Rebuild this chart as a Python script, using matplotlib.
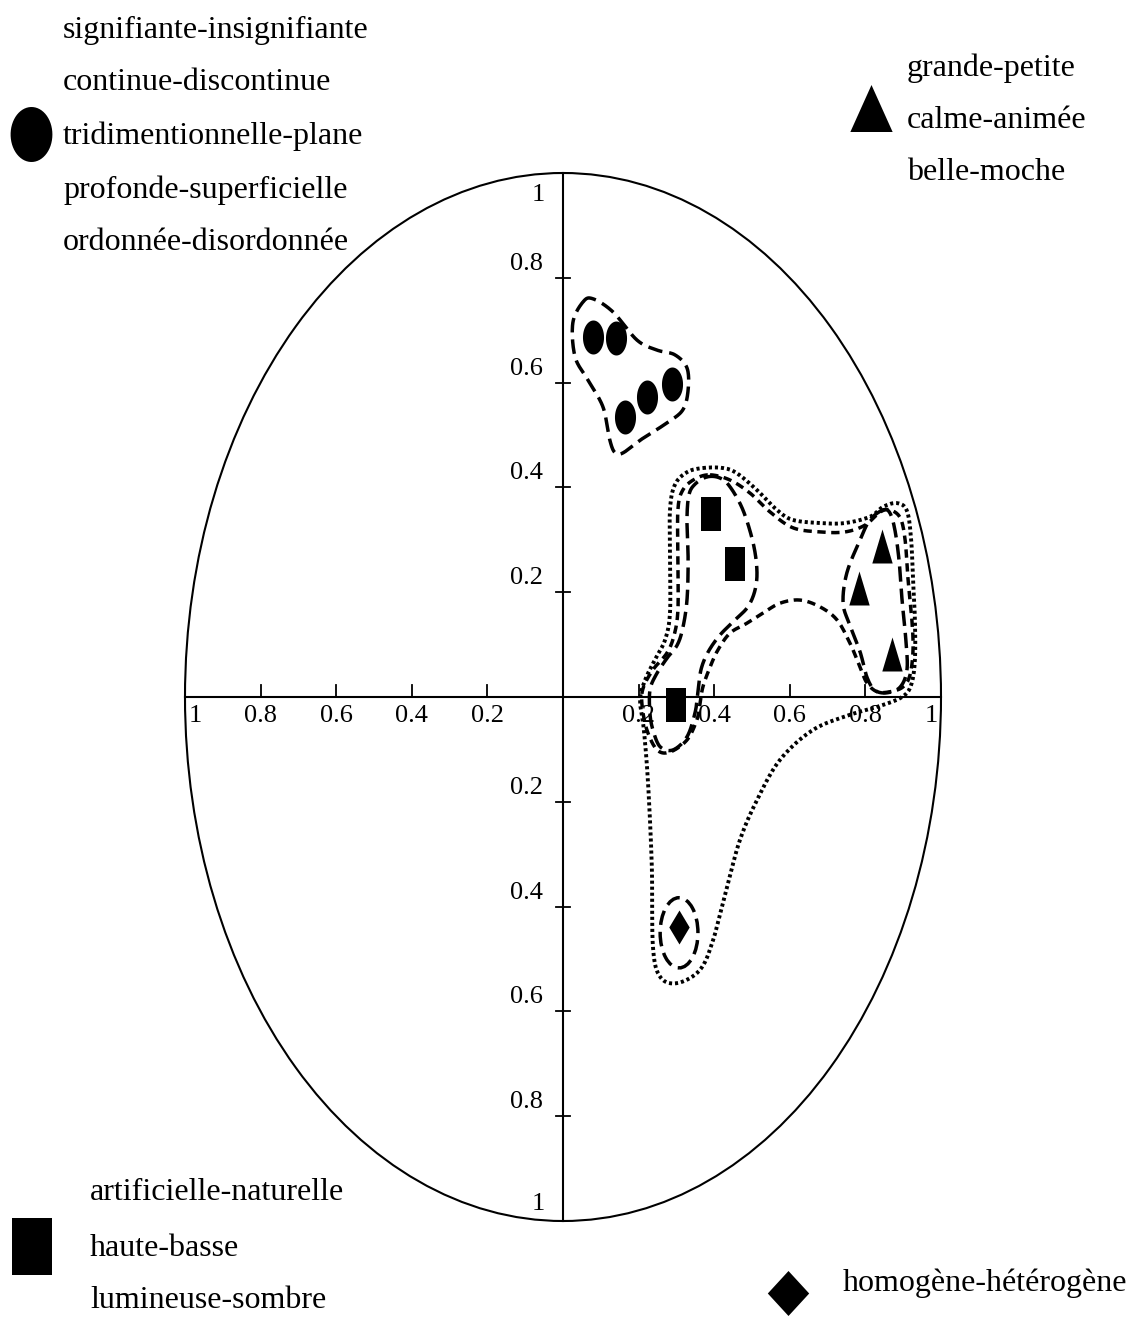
import numpy as np
import matplotlib
matplotlib.use("Agg")
import matplotlib.pyplot as plt
from matplotlib.patches import Ellipse

plt.rcParams['font.family'] = ['Liberation Serif', 'DejaVu Serif']

# Figure size in pixels and the pixel frame of the unit ellipse
W, H = 1140, 1317
CX, CY = 563, 697        # origin in pixels
UX, UY = 378, 524        # pixels per unit on each axis

# Adjective pairs (factorial coordinates on axes 1 and 2)
circle_x = [0.079, 0.140, 0.164, 0.222, 0.288]
circle_y = [0.687, 0.685, 0.534, 0.573, 0.597]
square_x = [0.392, 0.455, 0.299]
square_y = [0.349, 0.254, -0.015]
triangle_x = [0.844, 0.783, 0.870]
triangle_y = [0.288, 0.208, 0.082]
diamond_x = [0.307]
diamond_y = [-0.439]

circle_labels = ["signifiante-insignifiante", "continue-discontinue",
                 "tridimentionnelle-plane", "profonde-superficielle",
                 "ordonnée-disordonnée"]
triangle_labels = ["grande-petite", "calme-animée", "belle-moche"]
square_labels = ["artificielle-naturelle", "haute-basse", "lumineuse-sombre"]
diamond_labels = ["homogène-hétérogène"]

tick_values = [0.2, 0.4, 0.6, 0.8]

# Group outlines (control points, smoothed below)
hull_circles = [(0.053, 0.754), (0.079, 0.760), (0.132, 0.735), (0.196, 0.681),
                (0.249, 0.662), (0.296, 0.653), (0.328, 0.628), (0.331, 0.586),
                (0.317, 0.548), (0.275, 0.523), (0.212, 0.494), (0.159, 0.466),
                (0.138, 0.466), (0.124, 0.490), (0.106, 0.553), (0.066, 0.605),
                (0.032, 0.649), (0.026, 0.714)]
hull_squares = [(0.381, 0.420), (0.415, 0.418), (0.442, 0.401), (0.476, 0.357),
                (0.503, 0.294), (0.513, 0.242), (0.508, 0.204), (0.489, 0.172),
                (0.455, 0.147), (0.415, 0.118), (0.384, 0.086), (0.365, 0.052),
                (0.357, 0.008), (0.349, -0.031), (0.328, -0.076), (0.291, -0.101),
                (0.257, -0.095), (0.238, -0.063), (0.230, -0.031), (0.230, 0.013),
                (0.246, 0.042), (0.275, 0.074), (0.302, 0.099), (0.317, 0.132),
                (0.328, 0.185), (0.331, 0.261), (0.328, 0.338), (0.333, 0.385),
                (0.349, 0.406)]
hull_sq_tri = [(0.389, 0.424), (0.442, 0.414), (0.495, 0.389), (0.548, 0.353),
               (0.608, 0.323), (0.680, 0.315), (0.746, 0.315), (0.799, 0.328),
               (0.839, 0.353), (0.865, 0.357), (0.892, 0.342), (0.905, 0.300),
               (0.913, 0.223), (0.923, 0.147), (0.926, 0.090), (0.918, 0.042),
               (0.899, 0.019), (0.865, 0.010), (0.831, 0.010), (0.804, 0.027),
               (0.786, 0.057), (0.759, 0.103), (0.725, 0.147), (0.680, 0.172),
               (0.627, 0.185), (0.574, 0.179), (0.529, 0.160), (0.487, 0.141),
               (0.442, 0.122), (0.410, 0.090), (0.389, 0.057), (0.370, 0.019),
               (0.362, -0.015), (0.354, -0.044), (0.328, -0.082), (0.283, -0.105),
               (0.249, -0.101), (0.222, -0.063), (0.209, -0.015), (0.212, 0.017),
               (0.238, 0.052), (0.275, 0.084), (0.294, 0.118), (0.304, 0.166),
               (0.304, 0.261), (0.304, 0.357), (0.317, 0.395), (0.349, 0.416)]
hull_triangles = [(0.847, 0.357), (0.812, 0.338), (0.786, 0.300), (0.751, 0.237),
                  (0.741, 0.179), (0.759, 0.137), (0.786, 0.086), (0.804, 0.038),
                  (0.825, 0.013), (0.857, 0.008), (0.892, 0.019), (0.910, 0.052),
                  (0.907, 0.109), (0.897, 0.185), (0.889, 0.261), (0.878, 0.319),
                  (0.865, 0.351)]
hull_all = [(0.370, 0.437), (0.423, 0.437), (0.460, 0.427), (0.513, 0.395),
            (0.566, 0.357), (0.608, 0.338), (0.680, 0.332), (0.746, 0.332),
            (0.812, 0.344), (0.847, 0.363), (0.884, 0.370), (0.910, 0.355),
            (0.921, 0.300), (0.926, 0.223), (0.931, 0.147), (0.931, 0.071),
            (0.921, 0.023), (0.897, 0.000), (0.839, -0.017), (0.759, -0.034),
            (0.661, -0.063), (0.574, -0.120), (0.513, -0.197), (0.468, -0.273),
            (0.434, -0.363), (0.397, -0.464), (0.362, -0.521), (0.302, -0.546),
            (0.257, -0.534), (0.238, -0.477), (0.235, -0.324), (0.225, -0.164),
            (0.214, -0.063), (0.204, -0.006), (0.217, 0.032), (0.243, 0.071),
            (0.270, 0.109), (0.283, 0.160), (0.283, 0.261), (0.283, 0.357),
            (0.296, 0.405), (0.328, 0.429)]
diamond_ring = (0.307, -0.450, 0.050, 0.067)   # centre x, centre y, half width, half height


def catmull_rom_closed(pts, n=20):
    p = np.asarray(pts, dtype=float)
    k = len(p)
    out = []
    for i in range(k):
        p0, p1, p2, p3 = p[i - 1], p[i], p[(i + 1) % k], p[(i + 2) % k]
        for t in np.linspace(0, 1, n, endpoint=False):
            t2, t3 = t * t, t * t * t
            out.append(0.5 * ((2 * p1) + (-p0 + p2) * t
                              + (2 * p0 - 5 * p1 + 4 * p2 - p3) * t2
                              + (-p0 + 3 * p1 - 3 * p2 + p3) * t3))
    out.append(out[0])
    return np.array(out)


def oval_marker(aspect):
    th = np.linspace(0, 2 * np.pi, 60)
    return np.column_stack([aspect * np.cos(th), np.sin(th)])


def box_marker(aspect):
    return [(-aspect, -1), (aspect, -1), (aspect, 1), (-aspect, 1), (-aspect, -1)]


def tri_marker(aspect):
    return [(-aspect, -1), (aspect, -1), (0, 1), (-aspect, -1)]


def rhombus_marker(aspect):
    return [(0, -1), (aspect, 0), (0, 1), (-aspect, 0), (0, -1)]


def px(x, y):
    # pixel position -> data coordinates
    return (x - CX) / UX, (CY - y) / UY


fig = plt.figure(figsize=(W / 100, H / 100), dpi=100)
ax = fig.add_axes([0, 0, 1, 1])
ax.set_xlim(-CX / UX, (W - CX) / UX)
ax.set_ylim(-(H - CY) / UY, CY / UY)
ax.axis('off')

# unit ellipse and the two axes
ax.add_patch(Ellipse((0, 0), 2, 2, fill=False, lw=1.5, color='black'))
ax.plot([-1, 1], [0, 0], color='black', lw=1.5)
ax.plot([0, 0], [-1, 1], color='black', lw=1.5)

tick_font = 19
for v in tick_values:
    for s in (1, -1):
        ax.plot([s * v, s * v], [0, 12 / UY], color='black', lw=1.3)
        ax.text(s * v, -8 / UY, f"{v:g}", ha='center', va='top', fontsize=tick_font)
        ax.plot([-7 / UX, 7 / UX], [s * v, s * v], color='black', lw=1.3)
        ax.text(-20 / UX, s * v + 3 / UY, f"{v:g}", ha='right', va='bottom',
                fontsize=tick_font)
ax.text(-1 + 10 / UX, -8 / UY, "1", ha='center', va='top', fontsize=tick_font)
ax.text(1 - 10 / UX, -8 / UY, "1", ha='center', va='top', fontsize=tick_font)
ax.text(-25 / UX, 1 - 22 / UY, "1", ha='center', va='center', fontsize=tick_font)
ax.text(-25 / UX, -1 + 17 / UY, "1", ha='center', va='center', fontsize=tick_font)

# group outlines
lw = 2.5
styles = [
    (hull_circles, lw, (0, (4.2, 2.0))),
    (hull_squares, lw, (0, (4.4, 2.0))),
    (hull_triangles, lw, (0, (4.4, 2.0))),
    (hull_sq_tri, lw, (0, (2.4, 1.6))),
    (hull_all, 2.8, (0, (0.8, 0.75))),
]
for pts, w, ls in styles:
    c = catmull_rom_closed(pts)
    ax.plot(c[:, 0], c[:, 1], color='black', lw=w, linestyle=ls,
            dash_capstyle='butt')
dx, dy, rx, ry = diamond_ring
ax.add_patch(Ellipse((dx, dy), 2 * rx, 2 * ry, fill=False, lw=lw,
                     linestyle=(0, (4.2, 2.0)), color='black'))

# points
ms = 34 * 0.72
ax.plot(circle_x, circle_y, ls='none', marker=oval_marker(0.62), ms=ms,
        color='black', mew=0)
ax.plot(square_x, square_y, ls='none', marker=box_marker(0.58), ms=ms,
        color='black', mew=0)
ax.plot(triangle_x, triangle_y, ls='none', marker=tri_marker(0.6), ms=ms,
        color='black', mew=0)
ax.plot(diamond_x, diamond_y, ls='none', marker=rhombus_marker(0.6), ms=ms,
        color='black', mew=0)

# legend blocks in the corners
label_font = 23


def text_block(labels, x0, ys):
    for lab, y in zip(labels, ys):
        tx, ty = px(x0, y)
        ax.text(tx, ty, lab, ha='left', va='center', fontsize=label_font)


text_block(circle_labels, 63, [30, 82, 136, 190, 243])
text_block(triangle_labels, 907, [68, 120, 172])
text_block(square_labels, 90, [1193, 1248, 1300])
text_block(diamond_labels, 843, [1283])

legend_marks = [
    (oval_marker(0.76), (31, 134), 55),
    (tri_marker(0.9), (871, 108), 47),
    (box_marker(0.7), (32, 1246), 57),
    (rhombus_marker(0.92), (788, 1293), 45),
]
for mk, (mx, my), size in legend_marks:
    lx, ly = px(mx, my)
    ax.plot([lx], [ly], ls='none', marker=mk, ms=size * 0.72, color='black', mew=0,
            clip_on=False)

fig.savefig("out.png", dpi=100)
